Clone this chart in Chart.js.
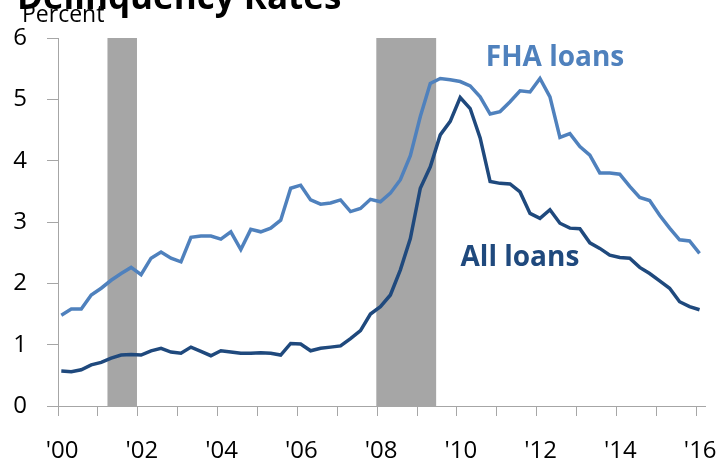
<!DOCTYPE html>
<html>
<head>
<meta charset="utf-8">
<script src="https://cdn.jsdelivr.net/npm/chart.js@4.4.1/dist/chart.umd.min.js"></script>
<style>
  html, body { margin: 0; padding: 0; background: #fff; }
  #wrap { width: 722px; height: 465px; }
</style>
</head>
<body>
<div id="wrap"><canvas id="chart" width="722" height="465"></canvas></div>
<script>
// Quarterly observations, 2000 Q1 .. 2016 Q1
const quarters = []
for (let y = 2000; y <= 2016; y++) {
  for (let q = 1; q <= 4; q++) {
    if (y === 2016 && q > 1) break
    quarters.push(y + "Q" + q)
  }
}

const fhaLoans = [
  1.48, 1.58, 1.58, 1.81, 1.92, 2.05, 2.16, 2.26, 2.14, 2.41,
  2.51, 2.41, 2.35, 2.75, 2.77, 2.77, 2.72, 2.84, 2.55, 2.88,
  2.84, 2.90, 3.03, 3.55, 3.60, 3.36, 3.29, 3.31, 3.36, 3.17,
  3.22, 3.37, 3.33, 3.47, 3.69, 4.08, 4.72, 5.26, 5.34, 5.32,
  5.29, 5.22, 5.04, 4.76, 4.80, 4.96, 5.14, 5.12, 5.34, 5.04,
  4.38, 4.44, 4.23, 4.09, 3.80, 3.80, 3.78, 3.58, 3.40, 3.35,
  3.11, 2.90, 2.71, 2.69, 2.49
]

const allLoans = [
  0.57, 0.56, 0.59, 0.67, 0.71, 0.78, 0.83, 0.84, 0.83, 0.90,
  0.94, 0.88, 0.86, 0.96, 0.89, 0.82, 0.90, 0.88, 0.86, 0.86,
  0.87, 0.86, 0.83, 1.02, 1.01, 0.90, 0.94, 0.96, 0.98, 1.10,
  1.23, 1.50, 1.62, 1.81, 2.22, 2.73, 3.55, 3.90, 4.42, 4.64,
  5.03, 4.85, 4.37, 3.66, 3.63, 3.62, 3.49, 3.14, 3.06, 3.20,
  2.98, 2.90, 2.89, 2.66, 2.57, 2.46, 2.42, 2.41, 2.26, 2.16,
  2.04, 1.92, 1.70, 1.62, 1.57
]

const tickYears = [2000, 2001, 2002, 2003, 2004, 2005, 2006, 2007, 2008,
  2009, 2010, 2011, 2012, 2013, 2014, 2015, 2016]
const tickLabels = ["'00", "", "'02", "", "'04", "", "'06", "", "'08",
  "", "'10", "", "'12", "", "'14", "", "'16"]

// recession periods (start, end) in fractional years
const recessionStart = [2001.24, 2007.98]
const recessionEnd = [2001.98, 2009.48]

const FONT = "'Open Sans', 'Noto Sans', sans-serif"
const FHA_COLOR = "#4f81bd"
const ALL_COLOR = "#1f497d"
const AXIS_COLOR = "#a6a6a6"

// quarter label -> fractional year (point sits a month into the quarter)
const toYear = (label) => {
  const [y, q] = label.split("Q").map(Number)
  return y + (q - 1) * 0.25 + 0.083
}

const toPoints = (values) => values.map((v, i) => ({ x: toYear(quarters[i]), y: v }))

const recessionPlugin = {
  id: "recessions",
  beforeDatasetsDraw(chart) {
    const { ctx, scales: { x, y } } = chart
    ctx.save()
    ctx.fillStyle = "#a6a6a6"
    recessionStart.forEach((start, i) => {
      const x0 = x.getPixelForValue(start)
      const x1 = x.getPixelForValue(recessionEnd[i])
      const y0 = y.getPixelForValue(6)
      const y1 = y.getPixelForValue(0)
      ctx.fillRect(x0, y0, x1 - x0, y1 - y0)
    })
    ctx.restore()
  }
}

const textPlugin = {
  id: "texts",
  afterDraw(chart) {
    const { ctx, scales: { x, y } } = chart
    ctx.save()
    ctx.fillStyle = "#000"
    ctx.textAlign = "left"
    ctx.textBaseline = "alphabetic"
    ctx.font = "bold 35px " + FONT
    ctx.fillText("Delinquency Rates", 17, 9)
    ctx.font = "23px " + FONT
    ctx.fillText("Percent", 22, 22)

    ctx.textAlign = "center"
    ctx.textBaseline = "middle"
    ctx.font = "bold 28px " + FONT
    ctx.fillStyle = FHA_COLOR
    ctx.fillText("FHA loans", x.getPixelForValue(2012.46), y.getPixelForValue(5.67))
    ctx.fillStyle = ALL_COLOR
    ctx.fillText("All loans", x.getPixelForValue(2011.58), y.getPixelForValue(2.41))
    ctx.restore()
  }
}

new Chart(document.getElementById("chart"), {
  type: "line",
  data: {
    datasets: [
      {
        label: "FHA loans",
        data: toPoints(fhaLoans),
        borderColor: FHA_COLOR,
        borderWidth: 3.5,
        pointRadius: 0,
        tension: 0
      },
      {
        label: "All loans",
        data: toPoints(allLoans),
        borderColor: ALL_COLOR,
        borderWidth: 3.5,
        pointRadius: 0,
        tension: 0
      }
    ]
  },
  options: {
    responsive: false,
    animation: false,
    layout: { padding: { top: 38, right: 17, left: 0, bottom: 0 } },
    plugins: {
      legend: { display: false },
      tooltip: { enabled: false }
    },
    scales: {
      x: {
        type: "linear",
        min: 2000,
        max: 2016.22,
        afterBuildTicks: (scale) => { scale.ticks = tickYears.map((v) => ({ value: v })) },
        afterFit: (scale) => {
          // fixed band below the plot; labels may overhang the sides
          scale.height = 59
          scale.paddingLeft = 0
          scale.paddingRight = 0
        },
        grid: { drawOnChartArea: false, drawTicks: true, tickLength: 10, color: AXIS_COLOR },
        border: { display: true, color: AXIS_COLOR, width: 1 },
        ticks: {
          autoSkip: false,
          maxRotation: 0,
          labelOffset: 4,
          padding: 21,
          color: "#000",
          font: { family: FONT, size: 24 },
          callback: (value) => tickLabels[tickYears.indexOf(value)]
        }
      },
      y: {
        min: 0,
        max: 6,
        afterFit: (scale) => {
          scale.width = 58
          scale.paddingTop = 0
          scale.paddingBottom = 0
        },
        grid: { drawOnChartArea: false, drawTicks: true, tickLength: 11, color: AXIS_COLOR },
        border: { display: true, color: AXIS_COLOR, width: 1 },
        ticks: {
          stepSize: 1,
          padding: 20,
          color: "#000",
          font: { family: FONT, size: 24 }
        }
      }
    }
  },
  plugins: [recessionPlugin, textPlugin]
})
</script>
</body>
</html>
